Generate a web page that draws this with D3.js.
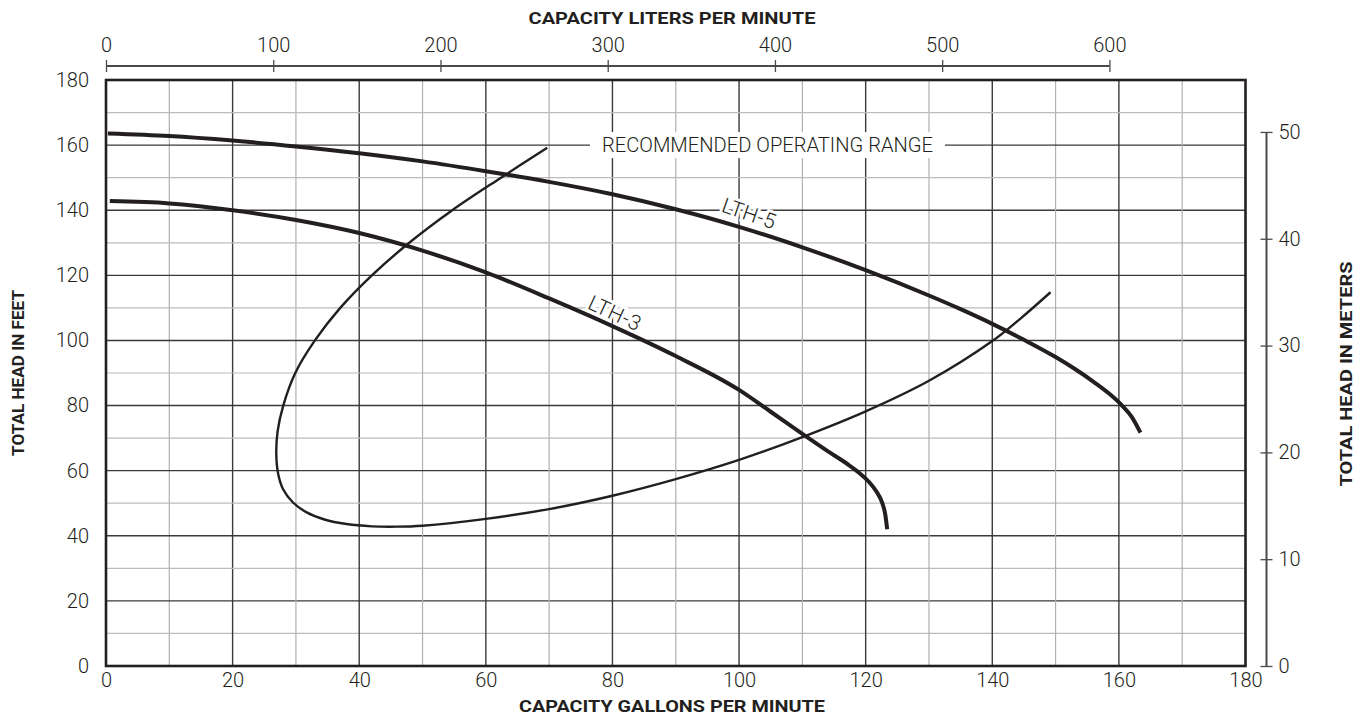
<!DOCTYPE html>
<html><head><meta charset="utf-8">
<script src="https://cdn.jsdelivr.net/npm/d3@7"></script>
<style>
html,body{margin:0;padding:0;background:#fff;}
svg{display:block;font-family:Roboto,"Open Sans",sans-serif;}
</style></head>
<body>
<svg id="chart" width="1364" height="716"></svg>
<script>
// ---------- data ----------
const gpmTicks = [0,20,40,60,80,100,120,140,160,180];
const feetTicks = [0,20,40,60,80,100,120,140,160,180];
const literTicks = [0,100,200,300,400,500,600];
const meterTicks = [0,10,20,30,40,50];

const lth5 = [[0.3,163.6],[10,162.8],[20,161.4],[30,159.6],[40,157.5],[50,155.0],[60,152.0],[70,148.7],[80,144.9],[90,140.3],[100,134.9],[110,128.6],[120,121.6],[130,113.8],[135,109.6],[140,105.1],[145,100.2],[150,94.9],[153,91.3],[156,87.3],[158.5,83.6],[160.5,80.0],[162,76.6],[163.4,71.7]];
const lth3 = [[0.6,142.8],[10,142.1],[20,140.0],[30,137.0],[40,133.0],[50,127.6],[60,120.9],[70,112.9],[80,104.4],[90,95.2],[100,84.8],[105,78.1],[110,71.3],[114,66.0],[117,62.2],[119,59.3],[120.5,56.6],[121.7,53.6],[122.6,50.2],[123.1,46.5],[123.4,42.0]];
const rangeCurve = [[69.7,159.2],[62.4,150],[54.7,140],[47.9,130],[42.0,120],[37.0,110],[33.0,100],[29.9,90],[28.0,80],[27.1,72],[26.9,65],[27.2,59],[28.0,54.2],[29.5,50.3],[31.7,47.2],[34.5,45.0],[38,43.6],[42,42.9],[46,42.8],[50,43.1],[60,45.2],[70,48.2],[80,52.3],[90,57.4],[100,63.3],[110,70.3],[120,78.2],[130,87.6],[140,99.8],[144.5,106.8],[149.2,114.8]];

const curveLabels = [
  {text:"LTH-5", gpm:101.6, ft:139.0, angle:19},
  {text:"LTH-3", gpm:80.4, ft:108.4, angle:25}
];
const rangeLabel = {text:"RECOMMENDED OPERATING RANGE", gpm:104.5, ft:160};

const GAL_TO_L = 3.78541;
const M_TO_FT = 3.28084;

// ---------- layout ----------
const svg = d3.select("#chart");
const L = 106, R = 1245.5, T = 80, B = 666;
const x = d3.scaleLinear().domain([0,180]).range([L,R]);
const y = d3.scaleLinear().domain([0,180]).range([B,T]);
const xl = d3.scaleLinear().domain([0,180*GAL_TO_L]).range([L,R]);
const ym = d3.scaleLinear().domain([0,180/M_TO_FT]).range([B,T]);

const ink = "#231f20";

// grid
const grid = svg.append("g");
d3.range(10,180,10).forEach(v=>{
  const major = v%20===0;
  grid.append("line").attr("x1",x(v)).attr("x2",x(v)).attr("y1",T).attr("y2",B)
    .attr("stroke", major?"#3a3a3a":"#b0b0b0").attr("stroke-width", major?1.4:1.2);
  grid.append("line").attr("y1",y(v)).attr("y2",y(v)).attr("x1",L).attr("x2",R)
    .attr("stroke", major?"#3a3a3a":"#bcbcbc").attr("stroke-width", major?1.4:1.2);
});

// range label background (breaks grid)
const rl = svg.append("g");
rl.append("rect").attr("x",590).attr("y",y(rangeLabel.ft)-13).attr("width",355).attr("height",26).attr("fill","#fff");

// frame
svg.append("rect").attr("x",L).attr("y",T).attr("width",R-L).attr("height",B-T)
  .attr("fill","none").attr("stroke",ink).attr("stroke-width",2.6);

// curves
const loopLine = d3.line().x(d=>x(d[0])).y(d=>y(d[1])).curve(d3.curveCatmullRom.alpha(0.5));
const pumpLine = d3.line().x(d=>x(d[0])).y(d=>y(d[1])).curve(d3.curveMonotoneX);
svg.append("path").datum(rangeCurve).attr("d",loopLine).attr("fill","none").attr("stroke",ink).attr("stroke-width",2.4);
svg.append("path").datum(lth5).attr("d",pumpLine).attr("fill","none").attr("stroke",ink).attr("stroke-width",4);
svg.append("path").datum(lth3).attr("d",pumpLine).attr("fill","none").attr("stroke",ink).attr("stroke-width",4);

// curve labels
curveLabels.forEach(c=>{
  svg.append("text").attr("transform",`translate(${x(c.gpm)},${y(c.ft)}) rotate(${c.angle})`)
    .attr("text-anchor","middle").attr("dy","0.35em")
    .attr("font-size",21).attr("font-weight",300).attr("fill",ink).attr("letter-spacing",0.5)
    .attr("stroke","#fff").attr("stroke-width",6).attr("paint-order","stroke")
    .text(c.text);
});
rl.append("text").attr("x",x(rangeLabel.gpm)).attr("y",y(rangeLabel.ft)).attr("dy","0.36em")
  .attr("text-anchor","middle").attr("font-size",20).attr("font-weight",300).attr("fill",ink)
  .attr("textLength",331).attr("lengthAdjust","spacingAndGlyphs")
  .text(rangeLabel.text);

// bottom axis (gpm)
const tickFont = 20;
const bx = svg.append("g").attr("transform",`translate(0,${B})`)
  .call(d3.axisBottom(x).tickValues(gpmTicks).tickSize(0).tickPadding(7));
bx.select(".domain").remove();
// left axis (ft)
const lx = svg.append("g").attr("transform",`translate(${L},0)`)
  .call(d3.axisLeft(y).tickValues(feetTicks).tickSize(0).tickPadding(17));
lx.select(".domain").remove();
// top axis (liters)
const tx = svg.append("g").attr("transform",`translate(0,66)`)
  .call(d3.axisTop(xl).tickValues(literTicks).tickSize(6).tickPadding(8));
tx.select(".domain").attr("d",`M${xl(0)},0H${xl(600)}`);
tx.selectAll(".tick line").attr("y1",6).attr("y2",-6);
// right axis (meters)
const rx = svg.append("g").attr("transform",`translate(1266.5,0)`)
  .call(d3.axisRight(ym).tickValues(meterTicks).tickSize(6).tickPadding(6));
rx.select(".domain").attr("d",`M0,${ym(0)}V${ym(50)}`);
rx.selectAll(".tick line").attr("x1",-6).attr("x2",6);

[bx,lx,tx,rx].forEach(g=>{
  g.selectAll("text").attr("font-size",tickFont).attr("font-family","Roboto,sans-serif").attr("font-weight",300).attr("fill",ink);
  g.selectAll("line").attr("stroke","#4a4a4a").attr("stroke-width",1.3);
  g.select(".domain").attr("stroke","#4a4a4a").attr("stroke-width",2);
});

// titles
function title(txt, tx_, ty_, rot, len){
  svg.append("text").attr("transform",`translate(${tx_},${ty_}) rotate(${rot})`)
    .attr("text-anchor","middle").attr("font-size",17).attr("font-weight",700).attr("fill",ink)
    .attr("textLength",len).attr("lengthAdjust","spacingAndGlyphs").text(txt);
}
title("CAPACITY LITERS PER MINUTE", 672, 24, 0, 287);
title("CAPACITY GALLONS PER MINUTE", 672, 712, 0, 306);
title("TOTAL HEAD IN FEET", 24, 373, -90, 166);
title("TOTAL HEAD IN METERS", 1352, 374, -90, 225);
</script>
</body></html>
